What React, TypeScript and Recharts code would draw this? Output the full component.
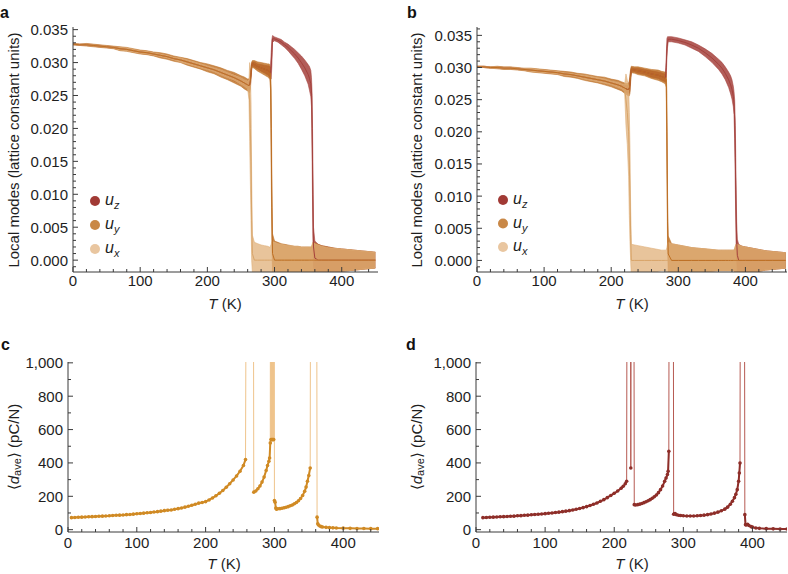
import React from 'react';
import { ComposedChart, LineChart, Line, Area, XAxis, YAxis } from 'recharts';

const FONT = '"Liberation Sans", Arial, Helvetica, sans-serif';
const INK = '#1e1e1e';
const FRAME = '#3a3a3a';

// series colours
const UZ = '#a5413c';
const UY = '#bd6e22';
const UX = '#e0b07a';
const LEG_UZ = '#a13a35';
const LEG_UY = '#c98847';
const LEG_UX = '#e9c6a0';
const C_LINE = '#efc48c';
const C_DOT = '#d08a24';
const D_LINE = '#b65a52';
const D_DOT = '#8e2e29';

// axis ticks
const X_MAJOR = [0, 100, 200, 300, 400];
const MODE_MAJOR = [0, 0.005, 0.01, 0.015, 0.02, 0.025, 0.03, 0.035];
const PIEZO_MAJOR = [0, 200, 400, 600, 800, 1000];

// ---- panel a : local modes, T (K)
const A_T = [
  0, 10, 20, 30, 40, 50, 60, 70, 80, 90,
  100, 110, 120, 130, 140, 150, 160, 170, 180, 190,
  200, 210, 220, 230, 240, 250, 255, 260, 262, 263,
  264, 265, 266, 267, 270, 275, 280, 285, 290, 292,
  293, 294, 295, 296, 297, 300, 305, 310, 315, 320,
  325, 330, 335, 340, 345, 350, 352, 354, 355, 356,
  357, 358, 360, 365, 370, 380, 390, 400, 410, 420,
  430, 440, 450,
];
const A_UX = [
  0.0328, 0.0327, 0.0327, 0.0326, 0.0325, 0.0324, 0.0323, 0.0321, 0.032, 0.0318,
  0.0316, 0.0315, 0.0313, 0.0311, 0.0309, 0.0306, 0.0304, 0.0301, 0.0298, 0.0295,
  0.0292, 0.0289, 0.0285, 0.0281, 0.0277, 0.0272, 0.0269, 0.0266, 0.0258, 0.024,
  0.02, 0.015, 0.006, 0.001, 0, 0, 0, 0, 0, 0,
  0, 0, 0, 0, 0, 0, 0, 0, 0, 0,
  0, 0, 0, 0, 0, 0, 0, 0, 0, 0,
  0, 0, 0, 0, 0, 0, 0, 0, 0, 0,
  0, 0, 0,
];
const A_UX_ERR = [
  0.0001, 0.0001, 0.0001, 0.0001, 0.0001, 0.0001, 0.0001, 0.0002, 0.0002, 0.0002,
  0.0002, 0.0002, 0.0002, 0.0002, 0.0002, 0.0002, 0.0003, 0.0003, 0.0003, 0.0003,
  0.0003, 0.0003, 0.0004, 0.0004, 0.0004, 0.0005, 0.0005, 0.0006, 0.0015, 0.006,
  0.008, 0.009, 0.006, 0.0028, 0.0027, 0.0025, 0.0023, 0.0022, 0.0021, 0.002,
  0.002, 0.0021, 0.0024, 0.0028, 0.0028, 0.0027, 0.0025, 0.0024, 0.0023, 0.0022,
  0.0022, 0.0021, 0.0021, 0.002, 0.002, 0.002, 0.002, 0.002, 0.0021, 0.0024,
  0.0027, 0.0027, 0.0025, 0.0023, 0.0021, 0.0019, 0.0018, 0.0017, 0.0016, 0.0015,
  0.0014, 0.0013, 0.0012,
];
const A_UY = [
  0.0328, 0.0327, 0.0327, 0.0326, 0.0325, 0.0324, 0.0323, 0.0321, 0.032, 0.0318,
  0.0316, 0.0315, 0.0313, 0.0311, 0.0309, 0.0306, 0.0304, 0.0301, 0.0298, 0.0295,
  0.0292, 0.0289, 0.0285, 0.0281, 0.0277, 0.0272, 0.0269, 0.0266, 0.0265, 0.0266,
  0.0272, 0.0285, 0.0295, 0.0298, 0.0297, 0.0294, 0.0292, 0.029, 0.0288, 0.0287,
  0.0285, 0.0275, 0.02, 0.008, 0.001, 0, 0, 0, 0, 0,
  0, 0, 0, 0, 0, 0, 0, 0, 0, 0,
  0, 0, 0, 0, 0, 0, 0, 0, 0, 0,
  0, 0, 0,
];
const A_UY_ERR = [
  0.0001, 0.0001, 0.0002, 0.0002, 0.0002, 0.0002, 0.0002, 0.0003, 0.0003, 0.0003,
  0.0003, 0.0003, 0.0003, 0.0004, 0.0004, 0.0004, 0.0004, 0.0005, 0.0005, 0.0005,
  0.0006, 0.0006, 0.0007, 0.0007, 0.0008, 0.0008, 0.0009, 0.0009, 0.001, 0.0012,
  0.0012, 0.001, 0.0006, 0.0005, 0.0006, 0.0007, 0.0008, 0.0009, 0.001, 0.0011,
  0.0011, 0.0015, 0.006, 0.005, 0.003, 0.0029, 0.0027, 0.0025, 0.0024, 0.0023,
  0.0022, 0.0021, 0.0021, 0.002, 0.002, 0.002, 0.002, 0.002, 0.002, 0.0022,
  0.0026, 0.0028, 0.0026, 0.0024, 0.0022, 0.002, 0.0018, 0.0017, 0.0016, 0.0015,
  0.0014, 0.0013, 0.0012,
];
const A_UZ = [
  0.0328, 0.0327, 0.0327, 0.0326, 0.0325, 0.0324, 0.0323, 0.0321, 0.032, 0.0318,
  0.0316, 0.0315, 0.0313, 0.0311, 0.0309, 0.0306, 0.0304, 0.0301, 0.0298, 0.0295,
  0.0292, 0.0289, 0.0285, 0.0281, 0.0277, 0.0272, 0.0269, 0.0266, 0.0265, 0.0266,
  0.0272, 0.0285, 0.0295, 0.0298, 0.0297, 0.0294, 0.0292, 0.029, 0.0288, 0.0287,
  0.0285, 0.0284, 0.0295, 0.0315, 0.0336, 0.0336, 0.0334, 0.0331, 0.0327, 0.0323,
  0.0318, 0.0313, 0.0307, 0.03, 0.0292, 0.0282, 0.0276, 0.0268, 0.0255, 0.02,
  0.01, 0.002, 0.0003, 0, 0, 0, 0, 0, 0, 0,
  0, 0, 0,
];
const A_UZ_ERR = [
  0.0001, 0.0001, 0.0001, 0.0001, 0.0001, 0.0001, 0.0001, 0.0001, 0.0001, 0.0001,
  0.0002, 0.0002, 0.0002, 0.0002, 0.0002, 0.0002, 0.0002, 0.0002, 0.0002, 0.0002,
  0.0003, 0.0003, 0.0004, 0.0004, 0.0005, 0.0005, 0.0005, 0.0006, 0.0007, 0.0008,
  0.0008, 0.0007, 0.0004, 0.0003, 0.0004, 0.0004, 0.0005, 0.0006, 0.0007, 0.0008,
  0.0008, 0.001, 0.002, 0.002, 0.0005, 0.0003, 0.0003, 0.0004, 0.0004, 0.0005,
  0.0006, 0.0007, 0.0008, 0.001, 0.0012, 0.0015, 0.0018, 0.002, 0.0022, 0.005,
  0.006, 0.003, 0.0026, 0.0024, 0.0022, 0.002, 0.0018, 0.0017, 0.0016, 0.0015,
  0.0014, 0.0013, 0.0012,
];

// ---- panel b : local modes, T (K)
const B_T = [
  0, 10, 20, 30, 40, 50, 60, 70, 80, 90,
  100, 110, 120, 130, 140, 150, 160, 170, 180, 190,
  200, 210, 215, 220, 222, 224, 226, 227, 228, 229,
  230, 235, 240, 250, 260, 270, 275, 280, 281, 282,
  283, 284, 285, 290, 300, 310, 320, 330, 340, 350,
  360, 365, 370, 375, 378, 380, 382, 383, 384, 385,
  386, 387, 388, 390, 395, 400, 410, 420, 430, 440,
  450, 460,
];
const B_UX = [
  0.0301, 0.0301, 0.03, 0.03, 0.0299, 0.0299, 0.0298, 0.0297, 0.0296, 0.0295,
  0.0294, 0.0293, 0.0292, 0.029, 0.0289, 0.0287, 0.0285, 0.0283, 0.0281, 0.0279,
  0.0276, 0.0273, 0.0271, 0.0268, 0.025, 0.023, 0.02, 0.015, 0.01, 0.004,
  0, 0, 0, 0, 0, 0, 0, 0, 0, 0,
  0, 0, 0, 0, 0, 0, 0, 0, 0, 0,
  0, 0, 0, 0, 0, 0, 0, 0, 0, 0,
  0, 0, 0, 0, 0, 0, 0, 0, 0, 0,
  0, 0,
];
const B_UX_ERR = [
  0.0001, 0.0001, 0.0001, 0.0001, 0.0001, 0.0001, 0.0001, 0.0001, 0.0002, 0.0002,
  0.0002, 0.0002, 0.0002, 0.0002, 0.0002, 0.0002, 0.0003, 0.0003, 0.0003, 0.0003,
  0.0003, 0.0004, 0.0004, 0.0005, 0.004, 0.005, 0.007, 0.008, 0.007, 0.004,
  0.0025, 0.0024, 0.0023, 0.0021, 0.0019, 0.0017, 0.0016, 0.0016, 0.0016, 0.0016,
  0.002, 0.0026, 0.0028, 0.0026, 0.0024, 0.0022, 0.002, 0.0019, 0.0018, 0.0017,
  0.0016, 0.0016, 0.0016, 0.0016, 0.0016, 0.0016, 0.0016, 0.0016, 0.0018, 0.0022,
  0.0025, 0.0025, 0.0025, 0.0024, 0.0022, 0.0021, 0.0019, 0.0017, 0.0015, 0.0014,
  0.0013, 0.0012,
];
const B_UY = [
  0.0301, 0.0301, 0.03, 0.03, 0.0299, 0.0299, 0.0298, 0.0297, 0.0296, 0.0295,
  0.0294, 0.0293, 0.0292, 0.029, 0.0289, 0.0287, 0.0285, 0.0283, 0.0281, 0.0279,
  0.0276, 0.0273, 0.0271, 0.0268, 0.0267, 0.0266, 0.0266, 0.0268, 0.0275, 0.0288,
  0.0297, 0.0296, 0.0295, 0.0293, 0.029, 0.0288, 0.0286, 0.0284, 0.0283, 0.0281,
  0.02, 0.006, 0.001, 0, 0, 0, 0, 0, 0, 0,
  0, 0, 0, 0, 0, 0, 0, 0, 0, 0,
  0, 0, 0, 0, 0, 0, 0, 0, 0, 0,
  0, 0,
];
const B_UY_ERR = [
  0.0001, 0.0001, 0.0001, 0.0002, 0.0002, 0.0002, 0.0002, 0.0002, 0.0003, 0.0003,
  0.0003, 0.0003, 0.0003, 0.0004, 0.0004, 0.0004, 0.0005, 0.0005, 0.0005, 0.0006,
  0.0006, 0.0007, 0.0007, 0.0008, 0.0008, 0.0009, 0.001, 0.0012, 0.0015, 0.001,
  0.0005, 0.0005, 0.0006, 0.0006, 0.0007, 0.0008, 0.0008, 0.0009, 0.001, 0.0012,
  0.006, 0.004, 0.0028, 0.0026, 0.0024, 0.0022, 0.002, 0.0019, 0.0018, 0.0017,
  0.0016, 0.0016, 0.0016, 0.0016, 0.0016, 0.0016, 0.0016, 0.0016, 0.0018, 0.0022,
  0.0025, 0.0025, 0.0025, 0.0024, 0.0022, 0.0021, 0.0019, 0.0017, 0.0015, 0.0014,
  0.0013, 0.0012,
];
const B_UZ = [
  0.0301, 0.0301, 0.03, 0.03, 0.0299, 0.0299, 0.0298, 0.0297, 0.0296, 0.0295,
  0.0294, 0.0293, 0.0292, 0.029, 0.0289, 0.0287, 0.0285, 0.0283, 0.0281, 0.0279,
  0.0276, 0.0273, 0.0271, 0.0268, 0.0267, 0.0266, 0.0266, 0.0268, 0.0275, 0.0288,
  0.0297, 0.0296, 0.0295, 0.0293, 0.029, 0.0288, 0.0286, 0.0284, 0.0285, 0.03,
  0.033, 0.034, 0.0344, 0.0344, 0.0342, 0.0339, 0.0335, 0.033, 0.0323, 0.0315,
  0.0305, 0.0299, 0.0291, 0.0281, 0.0273, 0.0266, 0.0255, 0.0245, 0.022, 0.016,
  0.008, 0.003, 0.0008, 0, 0, 0, 0, 0, 0, 0,
  0, 0,
];
const B_UZ_ERR = [
  0.0001, 0.0001, 0.0001, 0.0001, 0.0001, 0.0001, 0.0001, 0.0001, 0.0001, 0.0001,
  0.0002, 0.0002, 0.0002, 0.0002, 0.0002, 0.0002, 0.0002, 0.0002, 0.0002, 0.0002,
  0.0003, 0.0004, 0.0004, 0.0005, 0.0005, 0.0006, 0.0006, 0.0008, 0.001, 0.0005,
  0.0003, 0.0003, 0.0004, 0.0004, 0.0005, 0.0005, 0.0006, 0.0006, 0.0008, 0.0015,
  0.0015, 0.0008, 0.0004, 0.0004, 0.0004, 0.0004, 0.0005, 0.0005, 0.0006, 0.0007,
  0.0008, 0.0009, 0.001, 0.0012, 0.0014, 0.0015, 0.0016, 0.0018, 0.003, 0.005,
  0.005, 0.003, 0.0025, 0.0025, 0.0022, 0.0021, 0.0019, 0.0017, 0.0015, 0.0014,
  0.0013, 0.0012,
];

// ---- panel c : <d_ave> (pC/N); values above 1000 run off the top
const C_T = [
  5, 10, 15, 20, 25, 30, 35, 40, 45, 50,
  55, 60, 65, 70, 75, 80, 85, 90, 95, 100,
  105, 110, 115, 120, 125, 130, 135, 140, 145, 150,
  155, 160, 165, 170, 175, 180, 185, 190, 195, 200,
  205, 210, 215, 220, 225, 230, 235, 240, 245, 250,
  255, 258, 260, 269, 270, 273, 276, 279, 282, 285,
  288, 290, 292, 293, 294, 294.5, 295, 295.5, 296, 296.5,
  297, 297.5, 298, 298.5, 299, 299.5, 300, 301, 302, 303,
  305, 308, 311, 314, 317, 320, 323, 326, 329, 332,
  335, 338, 341, 344, 346, 348, 350, 352, 353, 361,
  362, 363, 364, 366, 368, 370, 375, 380, 385, 390,
  400, 410, 420, 430, 440, 450,
];
const C_D = [
  72, 73, 74, 75, 76, 77, 78, 79, 80, 81,
  82, 83, 85, 86, 87, 88, 90, 91, 93, 95,
  97, 99, 101, 103, 106, 108, 111, 114, 116, 118,
  122, 126, 130, 135, 140, 146, 152, 159, 163, 168,
  178, 190, 203, 218, 235, 254, 275, 298, 322, 350,
  385, 420, 3000, 3000, 225, 232, 245, 262, 285, 315,
  355, 385, 410, 430, 520, 3000, 540, 3000, 540, 3000,
  540, 3000, 540, 3000, 540, 3000, 175, 165, 130, 122,
  125, 126, 128, 131, 134, 138, 143, 148, 155, 163,
  173, 187, 205, 230, 255, 290, 325, 370, 3000, 3000,
  75, 35, 28, 22, 18, 16, 14, 12, 11, 10,
  9, 8, 7, 7, 6, 6,
];

// ---- panel d : <d_ave> (pC/N)
const D_T = [
  10, 15, 20, 25, 30, 35, 40, 45, 50, 55,
  60, 65, 70, 75, 80, 85, 90, 95, 100, 105,
  110, 115, 120, 125, 130, 135, 140, 145, 150, 155,
  160, 165, 170, 175, 180, 185, 190, 195, 200, 205,
  210, 213, 216, 218, 219, 223, 224, 225, 228, 229,
  231, 234, 237, 240, 243, 246, 249, 252, 255, 258,
  261, 264, 267, 270, 273, 275, 277, 278, 279, 280,
  285, 286, 287, 288, 290, 293, 296, 300, 305, 310,
  315, 320, 325, 330, 335, 340, 345, 350, 355, 360,
  364, 368, 371, 374, 376, 378, 380, 381, 382, 383,
  388, 389, 390, 391, 393, 395, 398, 400, 405, 410,
  420, 430, 440, 450,
];
const D_D = [
  72, 73, 74, 75, 76, 77, 78, 79, 80, 81,
  83, 84, 86, 87, 89, 91, 92, 94, 96, 98,
  100, 103, 105, 108, 111, 114, 118, 122, 127, 132,
  138, 145, 152, 160, 170, 180, 192, 205, 218, 232,
  248, 260, 275, 290, 3000, 3000, 370, 3000, 3000, 150,
  148, 150, 153, 157, 162, 167, 173, 180, 188, 197,
  208, 222, 240, 262, 290, 310, 330, 350, 470, 3000,
  3000, 92, 95, 96, 90, 86, 85, 83, 82, 82,
  82, 83, 85, 87, 90, 94, 99, 105, 113, 123,
  135, 152, 170, 192, 212, 240, 290, 340, 400, 3000,
  3000, 90, 30, 28, 32, 25, 18, 15, 10, 8,
  6, 5, 4, 4,
];

const withMinor = (step: number, lo: number, hi: number) => {
  const out: number[] = [];
  for (let k = Math.ceil(lo / step - 1e-9); k * step <= hi + 1e-12; k++) {
    out.push(Number((k * step).toFixed(6)));
  }
  return out;
};

const isMajor = (v: number, majors: number[]) => majors.some((m) => Math.abs(m - v) < 1e-9);

const modeRows = (T: number[], ux: number[], uxE: number[], uy: number[], uyE: number[], uz: number[], uzE: number[]) =>
  T.map((t, i) => ({
    T: t,
    ux: ux[i],
    uy: uy[i],
    uz: uz[i],
    uxBand: [ux[i] - uxE[i], ux[i] + uxE[i]],
    uyBand: [uy[i] - uyE[i], uy[i] + uyE[i]],
    uzBand: [uz[i] - uzE[i], uz[i] + uzE[i]],
  }));

const piezoRows = (T: number[], D: number[]) =>
  T.map((t, i) => ({ T: t, d: D[i], dOn: D[i] <= 1000 ? D[i] : null }));

const textStyle = { fontFamily: FONT, fontSize: 15, fill: INK };

// ticks point inwards, like a framed Mathematica plot
const bottomTick = (majors: number[], gap: number) => (p: any) => {
  const major = isMajor(p.payload.value, majors);
  return (
    <g>
      <line x1={p.x} y1={p.y} x2={p.x} y2={p.y - (major ? 5 : 3)} stroke={FRAME} />
      {major && (
        <text x={p.x} y={p.y + gap} textAnchor="middle" {...textStyle}>
          {p.payload.value}
        </text>
      )}
    </g>
  );
};

const topTick = (majors: number[]) => (p: any) => {
  const major = isMajor(p.payload.value, majors);
  return <line x1={p.x} y1={p.y} x2={p.x} y2={p.y + (major ? 5 : 3)} stroke={FRAME} />;
};

const leftTick = (majors: number[], fmt: (v: number) => string) => (p: any) => {
  const major = isMajor(p.payload.value, majors);
  return (
    <g>
      <line x1={p.x} y1={p.y} x2={p.x + (major ? 5 : 3)} y2={p.y} stroke={FRAME} />
      {major && (
        <text x={p.x - 5} y={p.y} dy="0.36em" textAnchor="end" {...textStyle}>
          {fmt(p.payload.value)}
        </text>
      )}
    </g>
  );
};

const rightTick = (majors: number[]) => (p: any) => {
  const major = isMajor(p.payload.value, majors);
  return <line x1={p.x} y1={p.y} x2={p.x - (major ? 5 : 3)} y2={p.y} stroke={FRAME} />;
};

const fmtMode = (v: number) => v.toFixed(3);
const fmtPiezo = (v: number) => v.toLocaleString('en-US');

type ModesProps = {
  rows: any[];
  width: number;
  yAxisWidth: number;
  marginRight: number;
  xMax: number;
  yDomain: [number, number];
};

function ModesPanel({ rows, width, yAxisWidth, marginRight, xMax, yDomain }: ModesProps) {
  const xTicks = withMinor(20, 0, xMax);
  const yTicks = withMinor(0.001, yDomain[0], yDomain[1]);
  return (
    <ComposedChart width={width} height={320} data={rows} margin={{ top: 27, right: marginRight, bottom: 0, left: 0 }}>
      <XAxis dataKey="T" type="number" domain={[0, xMax]} allowDataOverflow ticks={xTicks} interval={0}
        tickSize={0} tickMargin={0} height={48} axisLine={{ stroke: FRAME }} tickLine={false} tick={bottomTick(X_MAJOR, 14)} />
      <XAxis xAxisId="top" orientation="top" type="number" domain={[0, xMax]} allowDataOverflow ticks={xTicks} interval={0}
        tickSize={0} tickMargin={0} height={0} axisLine={{ stroke: FRAME }} tickLine={false} tick={topTick(X_MAJOR)} />
      <YAxis type="number" domain={yDomain} allowDataOverflow ticks={yTicks} interval={0}
        tickSize={0} tickMargin={0} width={yAxisWidth} axisLine={{ stroke: FRAME }} tickLine={false} tick={leftTick(MODE_MAJOR, fmtMode)} />
      <YAxis yAxisId="right" orientation="right" type="number" domain={yDomain} allowDataOverflow ticks={yTicks} interval={0}
        tickSize={0} tickMargin={0} width={0} axisLine={{ stroke: FRAME }} tickLine={false} tick={rightTick(MODE_MAJOR)} />
      <Area dataKey="uzBand" type="linear" fill={UZ} fillOpacity={0.85} stroke={UZ} strokeOpacity={0.7} strokeWidth={0.8} isAnimationActive={false} />
      <Area dataKey="uyBand" type="linear" fill={UY} fillOpacity={0.8} stroke={UY} strokeOpacity={0.7} strokeWidth={0.8} isAnimationActive={false} />
      <Area dataKey="uxBand" type="linear" fill={UX} fillOpacity={0.75} stroke={UX} strokeOpacity={0.8} strokeWidth={0.8} isAnimationActive={false} />
      <Line dataKey="uz" type="linear" stroke={UZ} strokeWidth={1} dot={false} isAnimationActive={false} />
      <Line dataKey="ux" type="linear" stroke="#d8a468" strokeWidth={1} dot={false} isAnimationActive={false} />
      <Line dataKey="uy" type="linear" stroke={UY} strokeWidth={1} dot={false} isAnimationActive={false} />
    </ComposedChart>
  );
}

type PiezoProps = {
  rows: any[];
  width: number;
  yAxisWidth: number;
  marginRight: number;
  xMax: number;
  lineColor: string;
  dotColor: string;
};

function PiezoPanel({ rows, width, yAxisWidth, marginRight, xMax, lineColor, dotColor }: PiezoProps) {
  const xTicks = withMinor(20, 0, xMax);
  const yDomain: [number, number] = [-14, 1005];
  const yTicks = withMinor(100, yDomain[0], yDomain[1]);
  return (
    <LineChart width={width} height={254} data={rows} margin={{ top: 42, right: marginRight, bottom: 0, left: 0 }}>
      <XAxis dataKey="T" type="number" domain={[0, xMax]} allowDataOverflow ticks={xTicks} interval={0}
        tickSize={0} tickMargin={0} height={42} axisLine={{ stroke: FRAME }} tickLine={false} tick={bottomTick(X_MAJOR, 16)} />
      <XAxis xAxisId="top" orientation="top" type="number" domain={[0, xMax]} allowDataOverflow ticks={xTicks} interval={0}
        tickSize={0} tickMargin={0} height={0} axisLine={{ stroke: FRAME }} tickLine={false} tick={topTick(X_MAJOR)} />
      <YAxis type="number" domain={yDomain} allowDataOverflow ticks={yTicks} interval={0}
        tickSize={0} tickMargin={0} width={yAxisWidth} axisLine={{ stroke: FRAME }} tickLine={false} tick={leftTick(PIEZO_MAJOR, fmtPiezo)} />
      <YAxis yAxisId="right" orientation="right" type="number" domain={yDomain} allowDataOverflow ticks={yTicks} interval={0}
        tickSize={0} tickMargin={0} width={0} axisLine={{ stroke: FRAME }} tickLine={false} tick={rightTick(PIEZO_MAJOR)} />
      <Line dataKey="d" type="linear" stroke={lineColor} strokeWidth={1} dot={false} isAnimationActive={false} />
      <Line dataKey="dOn" type="linear" stroke={dotColor} strokeWidth={2} connectNulls={false}
        dot={{ r: 1.8, fill: dotColor, stroke: dotColor, strokeWidth: 0 }} isAnimationActive={false} />
    </LineChart>
  );
}

const LEGEND = [
  { sub: 'z', color: LEG_UZ },
  { sub: 'y', color: LEG_UY },
  { sub: 'x', color: LEG_UX },
];

function ModesLegend({ x, y, step }: { x: number; y: number; step: number }) {
  return (
    <g>
      {LEGEND.map((item, i) => (
        <g key={item.sub}>
          <circle cx={x} cy={y + i * step} r={5} fill={item.color} />
          <text x={x + 10} y={y + i * step + 4} fontFamily={FONT} fontSize={16} fontStyle="italic" fill={INK}>
            <tspan>u</tspan>
            <tspan fontSize={11} dy={4}>{item.sub}</tspan>
          </text>
        </g>
      ))}
    </g>
  );
}

const ModesTitle = ({ x, y }: { x: number; y: number }) => (
  <text x={x} y={y} transform={`rotate(-90 ${x} ${y})`} textAnchor="middle" dominantBaseline="central" {...textStyle}>
    Local modes (lattice constant units)
  </text>
);

const PiezoTitle = ({ x, y }: { x: number; y: number }) => (
  <text x={x} y={y} transform={`rotate(-90 ${x} ${y})`} textAnchor="middle" dominantBaseline="central" {...textStyle}>
    {'\u27E8'}
    <tspan fontStyle="italic">d</tspan>
    <tspan fontSize={11} dy={4}>ave</tspan>
    <tspan dy={-4}>{'\u27E9'} (pC/N)</tspan>
  </text>
);

const TTitle = ({ x, y }: { x: number; y: number }) => (
  <text x={x} y={y} textAnchor="middle" {...textStyle}>
    <tspan fontStyle="italic">T</tspan> (K)
  </text>
);

const letterStyle = { fontFamily: FONT, fontSize: 16, fontWeight: 700, fill: '#111' };

export default function App() {
  const rowsA = modeRows(A_T, A_UX, A_UX_ERR, A_UY, A_UY_ERR, A_UZ, A_UZ_ERR);
  const rowsB = modeRows(B_T, B_UX, B_UX_ERR, B_UY, B_UY_ERR, B_UZ, B_UZ_ERR);
  const rowsC = piezoRows(C_T, C_D);
  const rowsD = piezoRows(D_T, D_D);

  return (
    <div style={{ position: 'absolute', left: 0, top: 0, width: 788, height: 574, background: '#fff' }}>
      <div style={{ position: 'absolute', left: 0, top: 0 }}>
        <ModesPanel rows={rowsA} width={390} yAxisWidth={73} marginRight={12} xMax={454} yDomain={[-0.0018, 0.0354]} />
      </div>
      <div style={{ position: 'absolute', left: 390, top: 0 }}>
        <ModesPanel rows={rowsB} width={398} yAxisWidth={87} marginRight={1} xMax={462} yDomain={[-0.0018, 0.0363]} />
      </div>
      <div style={{ position: 'absolute', left: 0, top: 320 }}>
        <PiezoPanel rows={rowsC} width={390} yAxisWidth={68} marginRight={11} xMax={452} lineColor={C_LINE} dotColor={C_DOT} />
      </div>
      <div style={{ position: 'absolute', left: 390, top: 320 }}>
        <PiezoPanel rows={rowsD} width={398} yAxisWidth={86} marginRight={1} xMax={450} lineColor={D_LINE} dotColor={D_DOT} />
      </div>
      <svg width={788} height={574} style={{ position: 'absolute', left: 0, top: 0, pointerEvents: 'none' }}>
        <text x={0} y={18} {...letterStyle}>a</text>
        <text x={407} y={18} {...letterStyle}>b</text>
        <text x={1} y={350} {...letterStyle}>c</text>
        <text x={406} y={350} {...letterStyle}>d</text>
        <ModesTitle x={13} y={150} />
        <ModesTitle x={416} y={150} />
        <PiezoTitle x={13} y={447} />
        <PiezoTitle x={416} y={447} />
        <TTitle x={225} y={309} />
        <TTitle x={632} y={309} />
        <TTitle x={224} y={569} />
        <TTitle x={632} y={569} />
        <ModesLegend x={95} y={201} step={24} />
        <ModesLegend x={503} y={200} step={23.5} />
      </svg>
    </div>
  );
}
